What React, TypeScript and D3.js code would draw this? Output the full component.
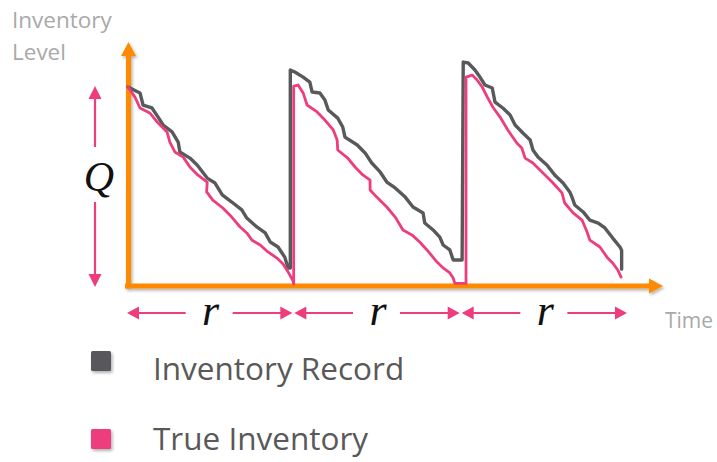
import React from "react";
import * as d3 from "d3";

const W = 717;
const H = 462;

// Time in days (one review period r = 30 days), level in % of Q
const cycleBounds = [0, 30, 60, 90];
const cycleLabels = ["r", "r", "r"];
const qLevel = 100;
const seriesNames = ["Inventory Record", "True Inventory"];
const axisLabels = ["Inventory", "Level", "Time"];

const recordTime = [
  0, 2.15, 2.7, 4.3, 5.4, 6.3, 7.9, 9.0, 9.3, 11.1, 12.4, 14.2, 15.6, 16.9, 18.6, 20.4, 21.3, 23.1, 24.6,
  25.5, 26.9, 28.1, 28.7, 29.1, 29.1, 29.9, 31.4, 32.6, 33.0, 34.4, 35.3, 35.9, 37.6, 38.5, 38.9, 41.1,
  42.5, 43.7, 45.2, 46.4, 47.9, 49.7, 51.1, 52.9, 53.2, 54.7, 55.9, 56.5, 57.7, 58.3, 59.9, 60.1, 61.0,
  62.2, 63.1, 64.0, 65.3, 65.8, 67.2, 68.5, 69.4, 70.8, 72.1, 72.6, 73.5, 75.1, 76.5, 78.0, 79.2, 79.6,
  80.1, 81.6, 82.8, 84.3, 85.5, 86.9, 88.2, 88.5, 88.5,
];
const recordLevel = [
  100, 97, 90.9, 89.4, 84.8, 80.8, 77.3, 72.2, 67.2, 64.1, 60.6, 54, 51.5, 45.5, 41.9, 37.9, 33.8,
  29.3, 26.3, 21.7, 19.2, 14.1, 8.6, 8.6, 108.6, 107.6, 105, 102.5, 97.5, 97, 93.4, 88.4, 84.3, 79.8,
  74.7, 70.7, 66.7, 61.6, 57.1, 52, 49, 44.4, 39.4, 36.4, 31.3, 27.8, 24.2, 20.2, 17.7, 12.6, 12.6, 112.6,
  112.1, 108.6, 105, 101, 99.5, 92.4, 89.4, 85.9, 80.8, 76.8, 73.2, 68.2, 64.6, 60.6, 55.6, 51.5, 47,
  44.4, 40.4, 36.9, 32.8, 31.3, 28.8, 23.7, 19.2, 17.5, 8,
];

const trueTime = [
  0, 1.25, 2.15, 3.9, 5.4, 7.0, 7.5, 8.4, 9.9, 11.1, 12.5, 14.2, 14.1, 15.2, 17.0, 18.6, 20.1, 21.3, 22.2,
  23.7, 25.1, 26.7, 27.8, 28.7, 29.6, 29.7, 29.7, 30.5, 31.4, 32.1, 33.9, 35.3, 36.8, 37.5, 37.6, 39.4,
  40.7, 42.1, 43.4, 43.4, 44.6, 46.4, 47.9, 49.3, 50.9, 52.3, 53.6, 55.4, 56.5, 57.7, 58.3, 58.6, 60.6,
  60.6, 61.7, 62.6, 63.5, 64.4, 65.4, 66.7, 68.1, 69.7, 70.6, 71.2, 72.6, 74.4, 76.2, 77.8, 78.3, 79.8,
  81.4, 82.3, 82.8, 84.6, 86.0, 86.9, 87.8, 88.4,
];
const trueLevel = [
  100, 94.9, 89.4, 86.9, 81.8, 77.3, 72.2, 67.2, 64.6, 59.6, 55.6, 52, 47, 42.9, 38.9, 34.3, 29.3, 26.3,
  22.7, 20.2, 16.7, 13.6, 10.6, 6.6, 2, 0.5, 100.5, 101, 97, 90.9, 87.4, 83.3, 78.3, 73.2, 68.2, 64.1,
  59.6, 55.6, 53, 48, 44.4, 39.4, 34.3, 27.8, 25.3, 21.7, 17.7, 11.6, 8.6, 6.1, 3.5, 0.8, 0.8, 105, 106,
  103.5, 100, 95, 89.9, 84.8, 78.3, 71.7, 69.2, 64.1, 61.6, 56.6, 51.5, 46.5, 41.4, 36.4, 32.8, 26.8,
  22.7, 19.2, 13.6, 11.1, 7.6, 4,
];

const ORANGE = "#ff8a00";
const GRAY = "#58595b";
const PINK = "#ee3d7d";
const LABEL_GRAY = "#a9a9a9";
const TEXT_GRAY = "#595959";

export default function App() {
  const x = d3.scaleLinear().domain([0, 90]).range([128, 630]);
  const y = d3.scaleLinear().domain([0, qLevel]).range([285, 87]);

  const line = d3
    .line<[number, number]>()
    .x((d) => x(d[0]))
    .y((d) => y(d[1]))
    .curve(d3.curveLinear);

  const recordPts = recordTime.map((t, i) => [t, recordLevel[i]] as [number, number]);
  const truePts = trueTime.map((t, i) => [t, trueLevel[i]] as [number, number]);

  const axisY = y(0) + 1;
  const axisX = x(0) + 0.5;

  const arrowRowY = 313;
  const qX = 95;

  const head = (tx: number, ty: number, dir: "l" | "r" | "u" | "d", len = 12, hw = 6.5) => {
    let pts: number[][] = [];
    if (dir === "r") pts = [[tx, ty], [tx - len, ty - hw], [tx - len, ty + hw]];
    if (dir === "l") pts = [[tx, ty], [tx + len, ty - hw], [tx + len, ty + hw]];
    if (dir === "u") pts = [[tx, ty], [tx - hw, ty + len], [tx + hw, ty + len]];
    if (dir === "d") pts = [[tx, ty], [tx - hw, ty - len], [tx + hw, ty - len]];
    return <polygon points={pts.map((p) => p.join(",")).join(" ")} fill={PINK} />;
  };

  const legendRows = [
    { box: 351, base: 380 },
    { box: 429, base: 450 },
  ];

  return (
    <svg
      width={W}
      height={H}
      style={{ position: "absolute", left: 0, top: 0, background: "#fff" }}
      fontFamily="'Open Sans', sans-serif"
    >
      <defs>
        <filter id="shadow" x="-20%" y="-20%" width="140%" height="140%">
          <feDropShadow dx="1.5" dy="2" stdDeviation="1.5" floodColor="#000" floodOpacity="0.3" />
        </filter>
      </defs>

      {/* axis labels */}
      <text x={12} y={28} fontSize={22.5} fill={LABEL_GRAY}>
        {axisLabels[0]}
      </text>
      <text x={12} y={60} fontSize={22.5} fill={LABEL_GRAY}>
        {axisLabels[1]}
      </text>
      <text x={665} y={328} fontSize={21} fill={LABEL_GRAY}>
        {axisLabels[2]}
      </text>

      {/* axes */}
      <g filter="url(#shadow)">
        <line x1={125} x2={649} y1={axisY} y2={axisY} stroke={ORANGE} strokeWidth={5} />
        <polygon
          points={`${649},${axisY - 7.5} ${663},${axisY} ${649},${axisY + 7.5}`}
          fill={ORANGE}
        />
        <line x1={axisX} x2={axisX} y1={axisY + 2.5} y2={55} stroke={ORANGE} strokeWidth={5} />
        <polygon
          points={`${axisX - 7.5},${56} ${axisX},${42} ${axisX + 7.5},${56}`}
          fill={ORANGE}
        />
      </g>

      {/* series */}
      <path
        d={line(recordPts) || ""}
        fill="none"
        stroke={GRAY}
        strokeWidth={3.4}
        strokeLinejoin="round"
        strokeLinecap="round"
      />
      <path
        d={line(truePts) || ""}
        fill="none"
        stroke={PINK}
        strokeWidth={2.8}
        strokeLinejoin="round"
        strokeLinecap="round"
      />

      {/* Q annotation */}
      <line x1={qX} x2={qX} y1={y(qLevel) + 8} y2={147} stroke={PINK} strokeWidth={2.2} />
      {head(qX, y(qLevel) - 1, "u", 13, 6.5)}
      <line x1={qX} x2={qX} y1={202} y2={y(0) - 8} stroke={PINK} strokeWidth={2.2} />
      {head(qX, y(0) + 2, "d", 13, 6.5)}
      <text
        x={qX + 4}
        y={191}
        fontSize={42}
        fontStyle="italic"
        fontFamily="'Liberation Serif', 'DejaVu Serif', serif"
        textAnchor="middle"
        fill="#111"
      >
        Q
      </text>

      {/* r annotations */}
      {cycleLabels.map((lab, i) => {
        const x0 = x(cycleBounds[i]) - 1;
        const x1 = x(cycleBounds[i + 1]) - 3;
        const cx = (x0 + x1) / 2 + 1;
        return (
          <g key={i}>
            {head(x0, arrowRowY, "l", 12, 6.5)}
            <line x1={x0 + 8} x2={cx - 25} y1={arrowRowY} y2={arrowRowY} stroke={PINK} strokeWidth={2.2} />
            <line x1={cx + 22} x2={x1 - 8} y1={arrowRowY} y2={arrowRowY} stroke={PINK} strokeWidth={2.2} />
            {head(x1, arrowRowY, "r", 12, 6.5)}
            <text
              x={cx}
              y={325}
              fontSize={44}
              fontStyle="italic"
              fontFamily="'Liberation Serif', 'DejaVu Serif', serif"
              textAnchor="middle"
              fill="#111"
            >
              {lab}
            </text>
          </g>
        );
      })}

      {/* legend */}
      {seriesNames.map((name, i) => {
        const row = legendRows[i];
        return (
          <g key={name}>
            <rect
              x={91}
              y={row.box}
              width={20}
              height={20}
              rx={1.5}
              fill={i === 0 ? GRAY : PINK}
              filter="url(#shadow)"
            />
            <text x={153} y={row.base} fontSize={31.5} fill={TEXT_GRAY}>
              {name}
            </text>
          </g>
        );
      })}
    </svg>
  );
}
